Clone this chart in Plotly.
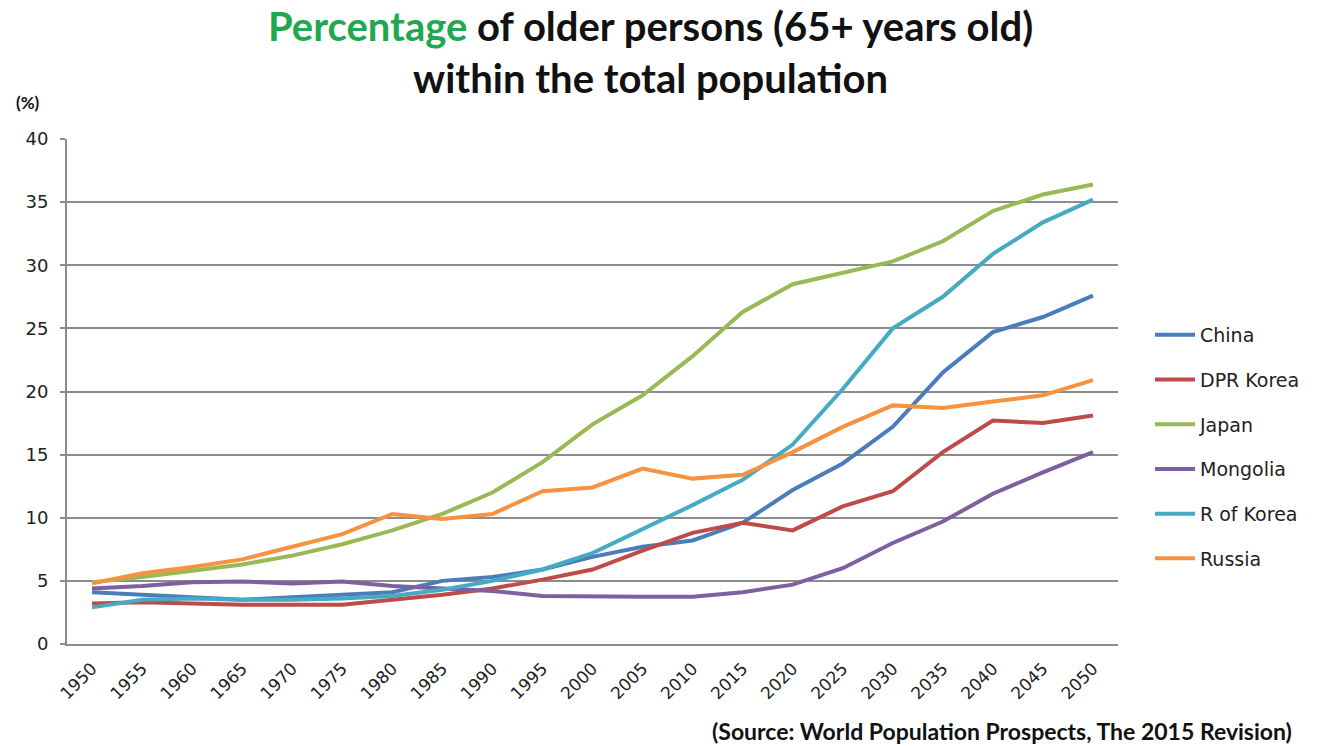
import plotly.graph_objects as go

# Share of population aged 65+ (%), 1950-2050
years = [1950, 1955, 1960, 1965, 1970, 1975, 1980, 1985, 1990, 1995, 2000,
         2005, 2010, 2015, 2020, 2025, 2030, 2035, 2040, 2045, 2050]

china = [4.1, 3.9, 3.7, 3.5, 3.7, 3.9, 4.1, 5.0, 5.3, 5.9, 6.9,
         7.7, 8.2, 9.6, 12.2, 14.3, 17.2, 21.5, 24.7, 25.9, 27.6]
dpr_korea = [3.2, 3.3, 3.2, 3.1, 3.1, 3.1, 3.5, 3.9, 4.4, 5.1, 5.9,
             7.4, 8.8, 9.6, 9.0, 10.9, 12.1, 15.2, 17.7, 17.5, 18.1]
japan = [4.9, 5.3, 5.8, 6.3, 7.0, 7.9, 9.0, 10.3, 12.0, 14.4, 17.4,
         19.7, 22.8, 26.3, 28.5, 29.4, 30.3, 31.9, 34.3, 35.6, 36.4]
mongolia = [4.4, 4.6, 4.9, 4.95, 4.8, 4.95, 4.6, 4.4, 4.2, 3.8, 3.75,
            3.75, 3.75, 4.1, 4.7, 6.0, 8.0, 9.7, 11.9, 13.6, 15.2]
r_korea = [2.9, 3.5, 3.6, 3.5, 3.5, 3.6, 3.8, 4.3, 5.0, 5.9, 7.2,
           9.1, 11.0, 13.0, 15.8, 20.2, 25.0, 27.5, 30.9, 33.4, 35.2]
russia = [4.8, 5.6, 6.1, 6.7, 7.7, 8.7, 10.3, 9.9, 10.3, 12.1, 12.4,
          13.9, 13.1, 13.4, 15.2, 17.2, 18.9, 18.7, 19.2, 19.7, 20.9]

series = [
    ("China", china, "#4A7EBB"),
    ("DPR Korea", dpr_korea, "#BE4B48"),
    ("Japan", japan, "#98B954"),
    ("Mongolia", mongolia, "#7D60A0"),
    ("R of Korea", r_korea, "#46AAC5"),
    ("Russia", russia, "#F69240"),
]

y_ticks = [0, 5, 10, 15, 20, 25, 30, 35, 40]

fig = go.Figure()
for name, vals, color in series:
    fig.add_trace(go.Scatter(
        x=years, y=vals, name=name, mode="lines",
        line=dict(color=color, width=4),
        legendgroup=name,
    ))

W, H = 1317, 746
m_l, m_r, m_t, m_b = 67, 199, 139, 102
pw, ph = W - m_l - m_r, H - m_t - m_b

fig.update_layout(
    width=W, height=H,
    margin=dict(l=m_l, r=m_r, t=m_t, b=m_b),
    paper_bgcolor="white", plot_bgcolor="white",
    font=dict(family="DejaVu Sans", size=16, color="#222222"),
    showlegend=True,
    legend=dict(
        xref="container", yref="container",
        x=1150 / W, y=1 - 316 / H, xanchor="left", yanchor="top",
        font=dict(family="DejaVu Sans", size=19, color="#222222"),
        traceorder="grouped", tracegroupgap=17,
        itemwidth=40, bgcolor="rgba(0,0,0,0)",
    ),
    xaxis=dict(
        range=[1947.5, 2052.5],
        tickmode="array", tickvals=years, ticktext=[str(y) for y in years],
        tickangle=-45, showgrid=False, zeroline=False,
        showline=True, linecolor="#8C8C8C", linewidth=2,
        ticks="", ticklabelstandoff=6,
        tickfont=dict(family="DejaVu Sans", size=17, color="#222222"),
    ),
    yaxis=dict(
        range=[0, 40], tickmode="array", tickvals=y_ticks,
        showgrid=True, gridcolor="#8C8C8C", gridwidth=1.5,
        zeroline=False, showline=True, linecolor="#8C8C8C", linewidth=2,
        ticks="outside", ticklen=5, tickcolor="#8C8C8C", tickwidth=1.5,
        ticklabelstandoff=8,
        tickfont=dict(family="DejaVu Sans", size=18, color="#222222"),
    ),
    annotations=[
        dict(
            text="<span style='color:#1FA84F'>Percentage</span> of older persons (65+ years old)"
                 "<br>within the total population",
            xref="paper", yref="paper", x=(650 - m_l) / pw, y=1 + 139 / ph,
            xanchor="center", yanchor="top", showarrow=False,
            font=dict(family="Lato", size=40, color="#111111", weight="bold"),
        ),
        dict(
            text="(%)", xref="paper", yref="paper",
            x=-53 / pw, y=1 + 36 / ph,
            xanchor="left", yanchor="middle", showarrow=False,
            font=dict(family="Lato", size=17, color="#111111", weight="bold"),
        ),
        dict(
            text="(Source: World Population Prospects, The 2015 Revision)",
            xref="paper", yref="paper",
            x=(1294 - m_l) / pw, y=-87 / ph,
            xanchor="right", yanchor="middle", showarrow=False,
            font=dict(family="Lato", size=23, color="#111111", weight="bold"),
        ),
    ],
)

fig.write_html("out.html")
